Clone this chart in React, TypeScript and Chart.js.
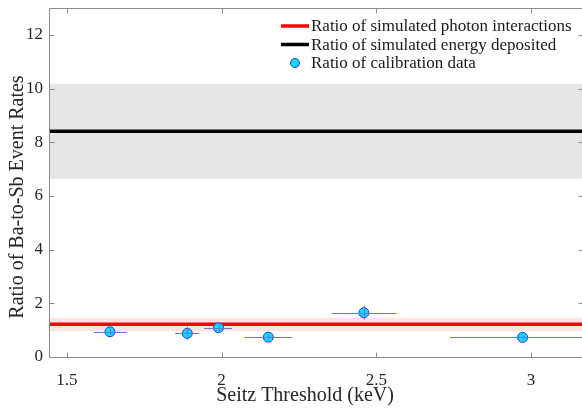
import React, { useEffect, useRef } from 'react';
import Chart from 'chart.js/auto';

// ---- data ----
const seitzThreshold = [1.639, 1.889, 1.99, 2.151, 2.46, 2.973];
const calibrationRatio = [0.94, 0.88, 1.09, 0.74, 1.65, 0.73];
const thresholdLow = [1.587, 1.85, 1.944, 2.075, 2.356, 2.738];
const thresholdHigh = [1.694, 1.928, 2.034, 2.228, 2.566, 3.21];
const ratioErr = [0.12, 0.25, 0.2, 0.1, 0.26, 0.08];

const photonRatio = 1.22;
const photonBand = [0.96, 1.46];
const energyRatio = 8.41;
const energyBand = [6.64, 10.18];

const xRange = [1.442, 3.165];
const yRange = [0, 13];
const xTicks = [1.5, 2, 2.5, 3];
const yTicks = [0, 2, 4, 6, 8, 10, 12];

const legendLabels = [
  'Ratio of simulated photon interactions',
  'Ratio of simulated energy deposited',
  'Ratio of calibration data',
];
const xTitle = 'Seitz Threshold (keV)';
const yTitle = 'Ratio of Ba-to-Sb Event Rates';

const FONT = '"Liberation Serif", "Times New Roman", serif';
const RED = '#ff0000';
const BLACK = '#000000';
const CYAN = '#14d9ff';
const EDGE = '#1a3ee0';
const ERR = '#6f6fe6';
const AXIS = '#8c8c8c';

const hLine = (y: number) => [
  { x: xRange[0], y },
  { x: xRange[1], y },
];

const zeroPad = (s: any) => {
  s.paddingLeft = 0;
  s.paddingRight = 0;
  s.paddingTop = 0;
  s.paddingBottom = 0;
};

const decorPlugin = {
  id: 'decor',
  afterDatasetsDraw(chart: any) {
    const ctx = chart.ctx;
    const xs = chart.scales.x;
    const ys = chart.scales.y;
    const ca = chart.chartArea;
    ctx.save();
    // error bars
    ctx.beginPath();
    ctx.rect(ca.left, ca.top, ca.right - ca.left, ca.bottom - ca.top);
    ctx.clip();
    ctx.strokeStyle = ERR;
    ctx.lineWidth = 1;
    seitzThreshold.forEach((xv, i) => {
      const py = Math.round(ys.getPixelForValue(calibrationRatio[i])) + 0.5;
      const px = Math.round(xs.getPixelForValue(xv)) + 0.5;
      ctx.beginPath();
      ctx.moveTo(xs.getPixelForValue(thresholdLow[i]), py);
      ctx.lineTo(xs.getPixelForValue(thresholdHigh[i]), py);
      ctx.moveTo(px, ys.getPixelForValue(calibrationRatio[i] - ratioErr[i]));
      ctx.lineTo(px, ys.getPixelForValue(calibrationRatio[i] + ratioErr[i]));
      ctx.stroke();
    });
    ctx.restore();

    // axes box + inward ticks
    ctx.save();
    ctx.strokeStyle = AXIS;
    ctx.lineWidth = 1;
    const L = Math.round(ca.left) + 0.5;
    const B = Math.round(ca.bottom) + 0.5;
    const T = Math.round(ca.top) + 0.5;
    const R = ca.right + 1.5;
    ctx.beginPath();
    ctx.moveTo(L, T);
    ctx.lineTo(L, B);
    ctx.lineTo(R, B);
    ctx.moveTo(L, T);
    ctx.lineTo(R, T);
    const tl = 5;
    xTicks.forEach((v) => {
      const px = Math.round(xs.getPixelForValue(v)) + 0.5;
      ctx.moveTo(px, B);
      ctx.lineTo(px, B - tl);
      ctx.moveTo(px, T);
      ctx.lineTo(px, T + tl);
    });
    yTicks.forEach((v) => {
      const py = Math.round(ys.getPixelForValue(v)) + 0.5;
      ctx.moveTo(L, py);
      ctx.lineTo(L + tl, py);
      ctx.moveTo(R, py);
      ctx.lineTo(R - tl, py);
    });
    ctx.stroke();

    // axis titles
    ctx.fillStyle = '#262626';
    ctx.font = `20px ${FONT}`;
    ctx.textAlign = 'center';
    ctx.textBaseline = 'middle';
    ctx.fillText(xTitle, 305, 396);
    ctx.translate(18, 197);
    ctx.rotate(-Math.PI / 2);
    ctx.fillText(yTitle, 0, 0);
    ctx.restore();

    // legend
    ctx.save();
    const lx = 281;
    const rows = [26, 44.5, 63];
    ctx.lineWidth = 3.5;
    ctx.strokeStyle = RED;
    ctx.beginPath();
    ctx.moveTo(lx, rows[0]);
    ctx.lineTo(lx + 28, rows[0]);
    ctx.stroke();
    ctx.strokeStyle = BLACK;
    ctx.beginPath();
    ctx.moveTo(lx, rows[1]);
    ctx.lineTo(lx + 28, rows[1]);
    ctx.stroke();
    ctx.lineWidth = 1;
    ctx.fillStyle = CYAN;
    ctx.strokeStyle = EDGE;
    ctx.beginPath();
    ctx.arc(lx + 14, rows[2], 4.5, 0, Math.PI * 2);
    ctx.fill();
    ctx.stroke();
    ctx.fillStyle = '#1a1a1a';
    ctx.font = `17px ${FONT}`;
    ctx.textAlign = 'left';
    ctx.textBaseline = 'middle';
    legendLabels.forEach((t, i) => ctx.fillText(t, lx + 30, rows[i] + 1));
    ctx.restore();
  },
};

export default function App() {
  const ref = useRef<HTMLCanvasElement>(null);
  useEffect(() => {
    document.body.style.margin = '0';
    document.body.style.overflow = 'hidden';
    const chart = new Chart(ref.current!, {
      type: 'scatter',
      data: {
        datasets: [
          {
            label: 'energyBandHigh',
            data: hLine(energyBand[1]),
            showLine: true,
            borderWidth: 0,
            pointRadius: 0,
            backgroundColor: '#e6e6e6',
            fill: '+1',
            order: 10,
          },
          {
            label: 'energyBandLow',
            data: hLine(energyBand[0]),
            showLine: true,
            borderWidth: 0,
            pointRadius: 0,
            order: 9,
          },
          {
            label: 'photonBandHigh',
            data: hLine(photonBand[1]),
            showLine: true,
            borderWidth: 0,
            pointRadius: 0,
            backgroundColor: '#fde3e3',
            fill: '+1',
            order: 8,
          },
          {
            label: 'photonBandLow',
            data: hLine(photonBand[0]),
            showLine: true,
            borderWidth: 0,
            pointRadius: 0,
            order: 7,
          },
          {
            label: legendLabels[1],
            data: hLine(energyRatio),
            showLine: true,
            borderColor: BLACK,
            borderWidth: 3.5,
            pointRadius: 0,
            order: 5,
          },
          {
            label: legendLabels[0],
            data: hLine(photonRatio),
            showLine: true,
            borderColor: RED,
            borderWidth: 3.5,
            pointRadius: 0,
            order: 4,
          },
          {
            label: legendLabels[2],
            data: seitzThreshold.map((x, i) => ({ x, y: calibrationRatio[i] })),
            pointRadius: 5,
            pointBackgroundColor: CYAN,
            pointBorderColor: EDGE,
            pointBorderWidth: 1,
            order: 1,
          },
        ],
      },
      options: {
        animation: false,
        responsive: false,
        maintainAspectRatio: false,
        layout: { autoPadding: false, padding: { left: 0, right: 0, top: 8, bottom: 0 } },
        plugins: { legend: { display: false }, tooltip: { enabled: false } },
        scales: {
          x: {
            type: 'linear',
            min: xRange[0],
            max: xRange[1],
            afterBuildTicks: (s: any) => {
              s.ticks = xTicks.map((value) => ({ value }));
            },
            afterFit: (s: any) => {
              s.height = 51;
              zeroPad(s);
            },
            grid: { display: false, drawTicks: false },
            border: { display: false },
            ticks: {
              padding: 13,
              color: '#262626',
              font: { family: FONT, size: 17 },
              maxRotation: 0,
              callback: (v: any) => String(v),
            },
          },
          y: {
            type: 'linear',
            min: yRange[0],
            max: yRange[1],
            afterBuildTicks: (s: any) => {
              s.ticks = yTicks.map((value) => ({ value }));
            },
            afterFit: (s: any) => {
              s.width = 49;
              zeroPad(s);
            },
            grid: { display: false, drawTicks: false },
            border: { display: false },
            ticks: {
              padding: 6,
              color: '#262626',
              font: { family: FONT, size: 17 },
              callback: (v: any) => String(v),
            },
          },
        },
      },
      plugins: [decorPlugin],
    });
    return () => chart.destroy();
  }, []);
  return (
    <div style={{ width: 582, height: 408 }}>
      <canvas ref={ref} width={582} height={408} style={{ display: 'block' }} />
    </div>
  );
}
